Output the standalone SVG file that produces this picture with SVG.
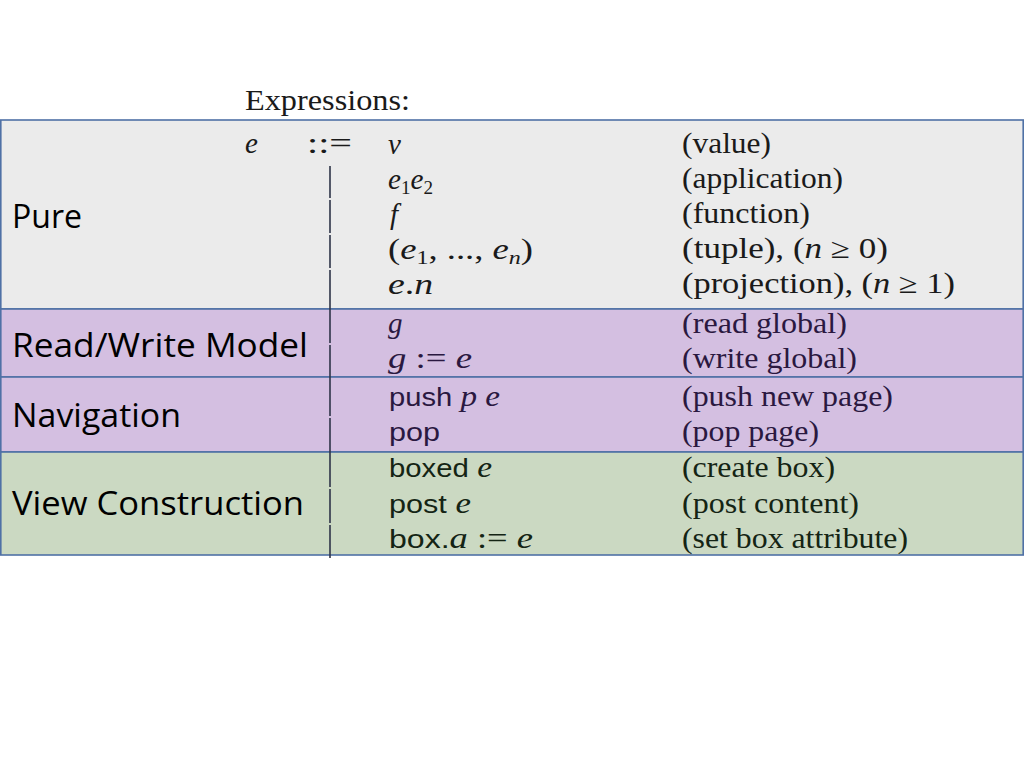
<svg xmlns="http://www.w3.org/2000/svg" width="1024" height="768" viewBox="0 0 1024 768">
<style>
.band{stroke:#4f71a6;stroke-width:1.6}
.lbl{font-family:"Open Sans","Liberation Sans",sans-serif;font-size:32px;fill:#000}
.tx{font-family:"Liberation Serif",serif;font-size:28.5px}
.m{font-family:"Liberation Serif",serif;font-size:29px}
.i{font-style:italic}
.sf{font-family:"Liberation Sans","DejaVu Sans",sans-serif;font-size:25.5px;font-style:normal}
.sub{font-size:19px}
.c1{fill:#1a1a1a}
.c2{fill:#2a1840}
.c3{fill:#142414}
.bar{stroke:#2e3448;stroke-width:1.6}
</style>
<rect width="1024" height="768" fill="#ffffff"/>
<text x="245" y="110" class="tx c1" textLength="165" lengthAdjust="spacingAndGlyphs">Expressions:</text>

<g id="pure">
<rect class="band" x="0.8" y="120" width="1022.4" height="189" fill="#ebebeb"/>
<text x="12" y="228" class="lbl" textLength="70" lengthAdjust="spacingAndGlyphs">Pure</text>
<g class="c1">
<text x="245" y="153" class="m i">e</text>
<text x="307" y="153" class="m" textLength="45" lengthAdjust="spacingAndGlyphs">::=</text>
<text x="388" y="154" class="m i">v</text>
<text x="388" y="189" class="m" textLength="45" lengthAdjust="spacingAndGlyphs"><tspan class="i">e</tspan><tspan class="sub" dy="5">1</tspan><tspan class="i" dy="-5">e</tspan><tspan class="sub" dy="5">2</tspan></text>
<text x="390" y="224" class="m i">f</text>
<text x="388" y="259" class="m" textLength="145" lengthAdjust="spacingAndGlyphs">(<tspan class="i">e</tspan><tspan class="sub" dy="5">1</tspan><tspan dy="-5">, ..., </tspan><tspan class="i">e</tspan><tspan class="sub" font-style="italic" dy="5">n</tspan><tspan dy="-5">)</tspan></text>
<text x="388" y="294" class="m" textLength="45" lengthAdjust="spacingAndGlyphs"><tspan class="i">e</tspan>.<tspan class="i">n</tspan></text>
<text x="682" y="153" class="tx" textLength="89" lengthAdjust="spacingAndGlyphs">(value)</text>
<text x="682" y="188" class="tx" textLength="161" lengthAdjust="spacingAndGlyphs">(application)</text>
<text x="682" y="223" class="tx" textLength="128" lengthAdjust="spacingAndGlyphs">(function)</text>
<text x="682" y="258" class="tx" textLength="206" lengthAdjust="spacingAndGlyphs">(tuple), (<tspan class="i">n</tspan> ≥ 0)</text>
<text x="682" y="293" class="tx" textLength="273" lengthAdjust="spacingAndGlyphs">(projection), (<tspan class="i">n</tspan> ≥ 1)</text>
</g>
</g>

<g id="read-write-model">
<rect class="band" x="0.8" y="309" width="1022.4" height="68" fill="#d4bfe1"/>
<text x="12" y="357" class="lbl" textLength="296" lengthAdjust="spacingAndGlyphs">Read/Write Model</text>
<g class="c2">
<text x="388" y="333" class="m i">g</text>
<text x="388" y="368" class="m" textLength="84" lengthAdjust="spacingAndGlyphs"><tspan class="i">g</tspan> := <tspan class="i">e</tspan></text>
<text x="682" y="333" class="tx" textLength="165" lengthAdjust="spacingAndGlyphs">(read global)</text>
<text x="682" y="368" class="tx" textLength="175" lengthAdjust="spacingAndGlyphs">(write global)</text>
</g>
</g>

<g id="navigation">
<rect class="band" x="0.8" y="377" width="1022.4" height="75" fill="#d4bfe1"/>
<text x="12" y="427" class="lbl" textLength="169" lengthAdjust="spacingAndGlyphs">Navigation</text>
<g class="c2">
<text x="389" y="406" class="m" textLength="111" lengthAdjust="spacingAndGlyphs"><tspan class="sf">push</tspan> <tspan class="i">p</tspan> <tspan class="i">e</tspan></text>
<text x="389" y="441" class="sf" textLength="51" lengthAdjust="spacingAndGlyphs">pop</text>
<text x="682" y="406" class="tx" textLength="211" lengthAdjust="spacingAndGlyphs">(push new page)</text>
<text x="682" y="441" class="tx" textLength="137" lengthAdjust="spacingAndGlyphs">(pop page)</text>
</g>
</g>

<g id="view-construction">
<rect class="band" x="0.8" y="452" width="1022.4" height="103" fill="#cbd9c2"/>
<text x="12" y="515" class="lbl" textLength="292" lengthAdjust="spacingAndGlyphs">View Construction</text>
<g class="c3">
<text x="389" y="477" class="m" textLength="103" lengthAdjust="spacingAndGlyphs"><tspan class="sf">boxed</tspan> <tspan class="i">e</tspan></text>
<text x="389" y="513" class="m" textLength="82" lengthAdjust="spacingAndGlyphs"><tspan class="sf">post</tspan> <tspan class="i">e</tspan></text>
<text x="389" y="548" class="m" textLength="144" lengthAdjust="spacingAndGlyphs"><tspan class="sf">box.</tspan><tspan class="i">a</tspan> := <tspan class="i">e</tspan></text>
<text x="682" y="477" class="tx" textLength="153" lengthAdjust="spacingAndGlyphs">(create box)</text>
<text x="682" y="513" class="tx" textLength="177" lengthAdjust="spacingAndGlyphs">(post content)</text>
<text x="682" y="548" class="tx" textLength="226" lengthAdjust="spacingAndGlyphs">(set box attribute)</text>
</g>
</g>

<g id="connectors">
<line class="bar" x1="330" y1="166" x2="330" y2="198"/>
<line class="bar" x1="330" y1="200" x2="330" y2="233"/>
<line class="bar" x1="330" y1="235" x2="330" y2="268"/>
<line class="bar" x1="330" y1="270" x2="330" y2="309"/>
<line class="bar" x1="330" y1="309" x2="330" y2="343"/>
<line class="bar" x1="330" y1="345" x2="330" y2="377"/>
<line class="bar" x1="330" y1="377" x2="330" y2="416"/>
<line class="bar" x1="330" y1="418" x2="330" y2="452"/>
<line class="bar" x1="330" y1="452" x2="330" y2="487"/>
<line class="bar" x1="330" y1="489" x2="330" y2="523"/>
<line class="bar" x1="330" y1="525" x2="330" y2="558"/>
</g>
</svg>
